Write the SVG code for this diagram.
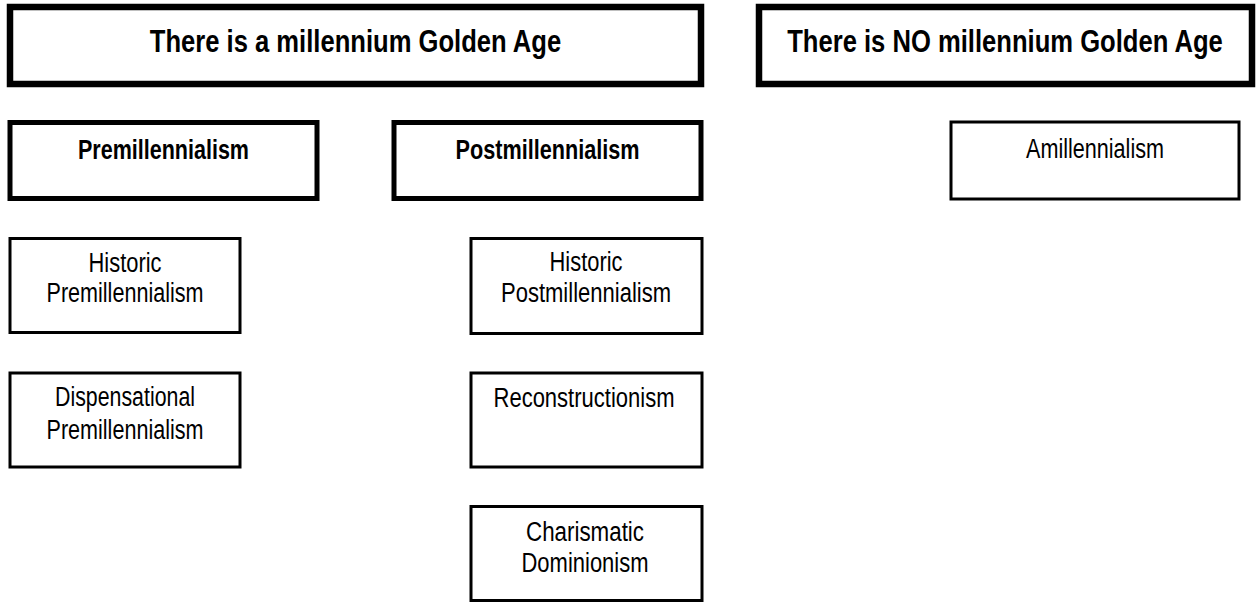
<svg xmlns="http://www.w3.org/2000/svg" width="1259" height="603" viewBox="0 0 1259 603">
<style>
.box{fill:#fff;stroke:#000}
.t1{stroke-width:6.5}
.t2{stroke-width:5}
.t3{stroke-width:3}
text{font-family:"Liberation Sans",Arial,sans-serif;fill:#000;text-anchor:middle}
.h1{font-size:32px;font-weight:bold}
.h2{font-size:27px;font-weight:bold}
.r{font-size:27px}
</style>
<rect width="1259" height="603" fill="#fff"/>
<g id="title-golden-age">
<rect class="box t1" x="10" y="7" width="691" height="77"/>
<text class="h1" transform="translate(355.5 52) scale(0.8 1)" x="0" y="0">There is a millennium Golden Age</text>
</g>
<g id="title-no-golden-age">
<rect class="box t1" x="759" y="7" width="493" height="77"/>
<text class="h1" transform="translate(1005 52) scale(0.8 1)" x="0" y="0">There is NO millennium Golden Age</text>
</g>
<g id="premillennialism">
<rect class="box t2" x="10" y="122.5" width="307" height="76"/>
<text class="h2" x="163.5" y="159" textLength="171" lengthAdjust="spacingAndGlyphs">Premillennialism</text>
</g>
<g id="postmillennialism">
<rect class="box t2" x="394" y="122.5" width="307" height="76"/>
<text class="h2" x="547.5" y="159" textLength="184" lengthAdjust="spacingAndGlyphs">Postmillennialism</text>
</g>
<g id="amillennialism">
<rect class="box t3" x="951" y="122" width="288" height="77"/>
<text class="r" x="1095" y="158" textLength="138" lengthAdjust="spacingAndGlyphs">Amillennialism</text>
</g>
<g id="historic-premillennialism">
<rect class="box t3" x="10" y="238.5" width="230" height="94"/>
<text class="r" x="125" y="272" textLength="73" lengthAdjust="spacingAndGlyphs">Historic</text>
<text class="r" x="125" y="302" textLength="157" lengthAdjust="spacingAndGlyphs">Premillennialism</text>
</g>
<g id="dispensational-premillennialism">
<rect class="box t3" x="10" y="373" width="230" height="94"/>
<text class="r" x="125" y="406" textLength="140" lengthAdjust="spacingAndGlyphs">Dispensational</text>
<text class="r" x="125" y="439" textLength="157" lengthAdjust="spacingAndGlyphs">Premillennialism</text>
</g>
<g id="historic-postmillennialism">
<rect class="box t3" x="471" y="238.5" width="231" height="95"/>
<text class="r" x="586" y="271" textLength="73" lengthAdjust="spacingAndGlyphs">Historic</text>
<text class="r" x="586" y="302" textLength="170" lengthAdjust="spacingAndGlyphs">Postmillennialism</text>
</g>
<g id="reconstructionism">
<rect class="box t3" x="471" y="373" width="231" height="94"/>
<text class="r" x="584" y="407" textLength="181" lengthAdjust="spacingAndGlyphs">Reconstructionism</text>
</g>
<g id="charismatic-dominionism">
<rect class="box t3" x="471" y="506.5" width="231" height="94"/>
<text class="r" x="585" y="541" textLength="118" lengthAdjust="spacingAndGlyphs">Charismatic</text>
<text class="r" x="585" y="572" textLength="127" lengthAdjust="spacingAndGlyphs">Dominionism</text>
</g>
<g id="connectors"></g>
</svg>
